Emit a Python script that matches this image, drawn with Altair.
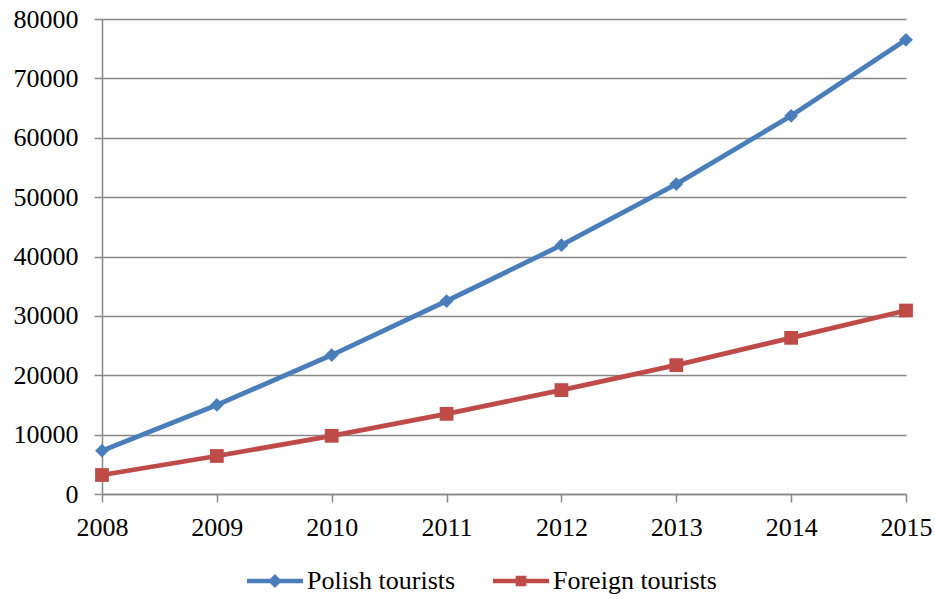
import altair as alt
import pandas as pd

# Tourist arrivals per year
years = [2008, 2009, 2010, 2011, 2012, 2013, 2014, 2015]
polish = [7300, 15000, 23400, 32500, 41900, 52200, 63700, 76500]
foreign = [3200, 6400, 9800, 13500, 17500, 21700, 26300, 30900]

series_names = ["Polish tourists", "Foreign tourists"]
series_colors = ["#4a7ebb", "#be4b48"]
series_markers = ["diamond", "square"]

# Legend glyphs: a thick stroke with the series marker in the middle
legend_paths = [
    "M-1,-0.08 L-0.17,-0.08 L0,-0.25 L0.17,-0.08 L1,-0.08 L1,0.08 "
    "L0.17,0.08 L0,0.25 L-0.17,0.08 L-1,0.08 Z",
    "M-1,-0.08 L-0.19,-0.08 L-0.19,-0.19 L0.19,-0.19 L0.19,-0.08 L1,-0.08 "
    "L1,0.08 L0.19,0.08 L0.19,0.19 L-0.19,0.19 L-0.19,0.08 L-1,0.08 Z",
]

rows = []
for name, col, mk, vals in zip(series_names, series_colors, series_markers, [polish, foreign]):
    for y, v in zip(years, vals):
        rows.append({"year": y, "value": v, "series": name, "col": col, "marker": mk})
df = pd.DataFrame(rows)

FONT = "Liberation Serif"
FONT_SIZE = 26
GRAY = "#888888"

x = alt.X(
    "year:Q",
    scale=alt.Scale(domain=[2008, 2015], nice=False, zero=False),
    axis=alt.Axis(values=years, format="d", title=None, grid=False,
                  tickSize=8, labelPadding=12, labelFlush=False,
                  labelOverlap=False),
)
y = alt.Y(
    "value:Q",
    scale=alt.Scale(domain=[0, 80000], nice=False),
    axis=alt.Axis(values=list(range(0, 80001, 10000)), format="d", title=None,
                  grid=True, tickSize=8, labelPadding=16, labelFlush=False),
)

base = alt.Chart(df)

lines = base.mark_line(strokeWidth=4.8).encode(
    x=x, y=y, detail="series:N", color=alt.Color("col:N", scale=None)
)

points = base.mark_point(filled=True, opacity=1, strokeWidth=0).encode(
    x=x, y=y,
    color=alt.Color("col:N", scale=None),
    shape=alt.Shape("marker:N", scale=None),
    size=alt.value(190),
)

legend_spec = alt.Legend(
    title=None, orient="none", direction="horizontal",
    legendX=145, legendY=534, symbolSize=3136, symbolOpacity=1,
    symbolStrokeWidth=0, labelOffset=4, columnPadding=37,
    labelFont=FONT, labelFontSize=FONT_SIZE, labelColor="#000000", labelLimit=400,
    padding=0,
)

legend_layer = base.mark_point(filled=True, opacity=0).encode(
    x=x, y=y,
    color=alt.Color("series:N",
                    scale=alt.Scale(domain=series_names, range=series_colors),
                    legend=legend_spec),
    shape=alt.Shape("series:N",
                    scale=alt.Scale(domain=series_names, range=legend_paths),
                    legend=legend_spec),
)

chart = (
    alt.layer(lines, points, legend_layer)
    .properties(
        width=804, height=475,
        autosize=alt.AutoSizeParams(type="none"),
        padding={"left": 102, "top": 19, "right": 29, "bottom": 105},
        background="white",
    )
    .configure_view(stroke=None)
    .configure_axis(
        labelFont=FONT, labelFontSize=FONT_SIZE, labelColor="#000000",
        domainColor=GRAY, domainWidth=1.5,
        gridColor=GRAY, gridWidth=1.5,
        tickColor=GRAY, tickWidth=1.5,
    )
)

chart.save("out.html", embed_options={"renderer": "svg", "actions": False})
